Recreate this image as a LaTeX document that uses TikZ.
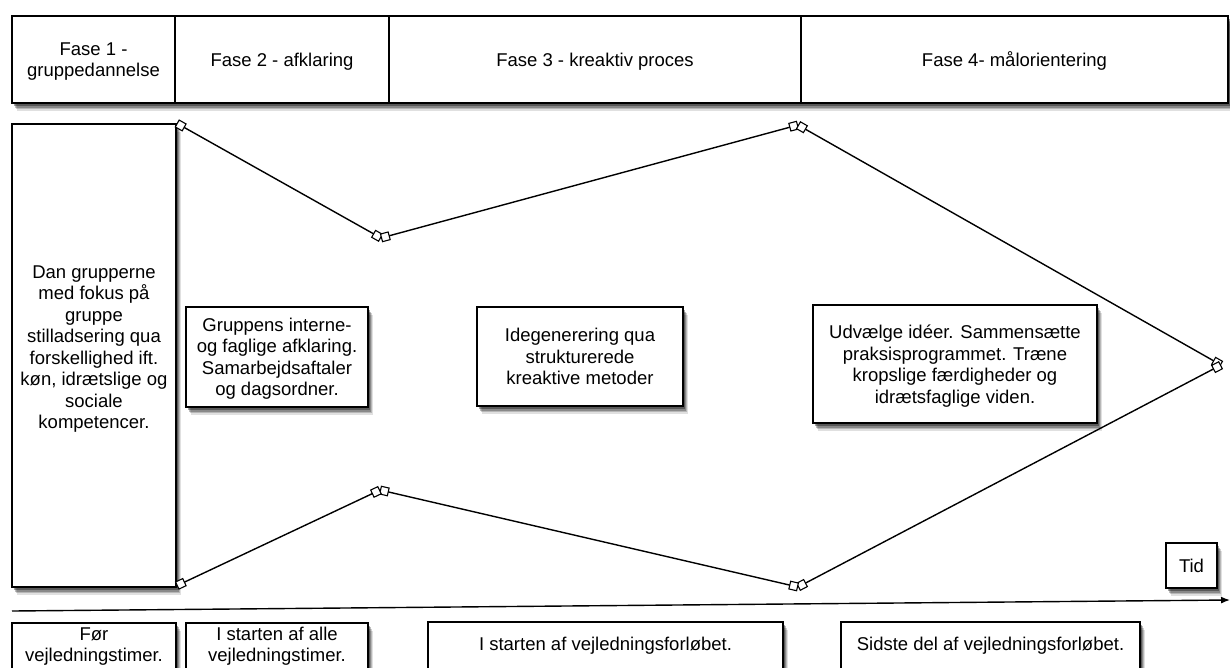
\documentclass[tikz,border=0pt]{standalone}
\usepackage{fontspec}
\setmainfont{Liberation Sans}
\usetikzlibrary{arrows.meta,positioning,backgrounds,shadows}

\begin{document}
\begin{tikzpicture}[x=1pt,y=-1pt,line width=1.4pt,
	font=\fontsize{18.5}{21.5}\selectfont,
	softshadow/.style={
		drop shadow={shadow xshift=4.5pt,shadow yshift=-8pt,opacity=0.12,fill=black},
		drop shadow={shadow xshift=3.5pt,shadow yshift=-6pt,opacity=0.18,fill=black},
		drop shadow={shadow xshift=2.5pt,shadow yshift=-4.5pt,opacity=0.25,fill=black},
		drop shadow={shadow xshift=1.5pt,shadow yshift=-3pt,opacity=0.35,fill=black}},
	txt/.style={align=center,text depth=0pt},
	hdr/.style={draw,line width=1.5pt,minimum height=87pt,txt,inner sep=0pt,outer sep=0pt},
	box/.style={draw,line width=1.5pt,fill=white,txt,inner sep=0pt,softshadow},
	sq/.tip={Square[fill=white,length=9pt,width=9pt,line width=1.1pt]},
	seg/.style={sq-sq}]
	\useasboundingbox (0,0) rectangle (1230,667);

	%phases
	\node[hdr,minimum width=163pt] (fase1) at (93.5,59.5) {Fase 1 -\\gruppedannelse};
	\node[hdr,minimum width=214pt,right=0pt of fase1] (fase2) {Fase 2 - afklaring};
	\node[hdr,minimum width=412pt,right=0pt of fase2] (fase3) {Fase 3 - kreaktiv proces};
	\node[hdr,minimum width=427pt,right=0pt of fase3] (fase4) {Fase 4- målorientering};

	%boxes
	\node[box,minimum width=164pt,minimum height=463pt] (dan) at (94,355.5) {};
	\node[txt] (dantxt) at (94,347) {Dan grupperne\\med fokus på\\gruppe\\stilladsering qua\\forskellighed ift.\\køn, idrætslige og\\sociale\\kompetencer.};
	\node[box,minimum width=182pt,minimum height=100pt] (afklar) at (277,357) {Gruppens interne-\\og faglige afklaring.\\Samarbejdsaftaler\\og dagsordner.};
	\node[box,minimum width=206pt,minimum height=99pt] (idegen) at (580,356.5) {Idegenerering qua\\strukturerede\\kreaktive metoder};
	\node[box,minimum width=284pt,minimum height=118pt] (udvalg) at (955,364) {Udvælge idéer. Sammensætte\\praksisprogrammet. Træne\\kropslige færdigheder og\\idrætsfaglige viden.};
	\node[box,minimum width=51pt,minimum height=45pt] (tid) at (1191.5,565.5) {Tid};

	%funnel
	\coordinate (dip) at (381,238);
	\coordinate (peak) at (798,125);
	\coordinate (tip) at (1221,365);
	\coordinate (low) at (798,587);
	\coordinate (hump) at (380,490);
	\draw[seg] (dan.north east) -- (dip);
	\draw[seg] (dip) -- (peak);
	\draw[seg] (peak) -- (tip);
	\draw[seg] (tip) -- (low);
	\draw[seg] (low) -- (hump);
	\draw[seg] (hump) -- ([yshift=2pt]dan.south east);

	%time axis
	\coordinate (tstart) at (12,611);
	\coordinate (tend) at (1230,600);
	\draw[-{Latex[length=9pt,width=7pt]}] (tstart) -- (tend);

	%when
	\node[box,anchor=north,minimum width=164pt,minimum height=80pt] (for) at (94,622) {};
	\node[txt] (fortxt) at (94,644.5) {Før\\vejledningstimer.};
	\node[box,anchor=north,minimum width=182pt,minimum height=80pt] (start) at (277,622) {};
	\node[txt] (starttxt) at (277,644.5) {I starten af alle\\vejledningstimer.};
	\node[box,anchor=north,minimum width=355pt,minimum height=80pt] (forlob) at (605.5,621) {};
	\node[txt] (forlobtxt) at (605.5,644) {I starten af vejledningsforløbet.};
	\node[box,anchor=north,minimum width=299pt,minimum height=80pt] (sidste) at (990.5,621) {};
	\node[txt] (sidstetxt) at (990.5,644) {Sidste del af vejledningsforløbet.};

	%page and header shadow
	\begin{scope}[on background layer]
		\fill[white] (0,0) rectangle (1230,667);
		\fill[white,softshadow] (fase1.north west) rectangle (fase4.south east);
	\end{scope}
\end{tikzpicture}
\end{document}
